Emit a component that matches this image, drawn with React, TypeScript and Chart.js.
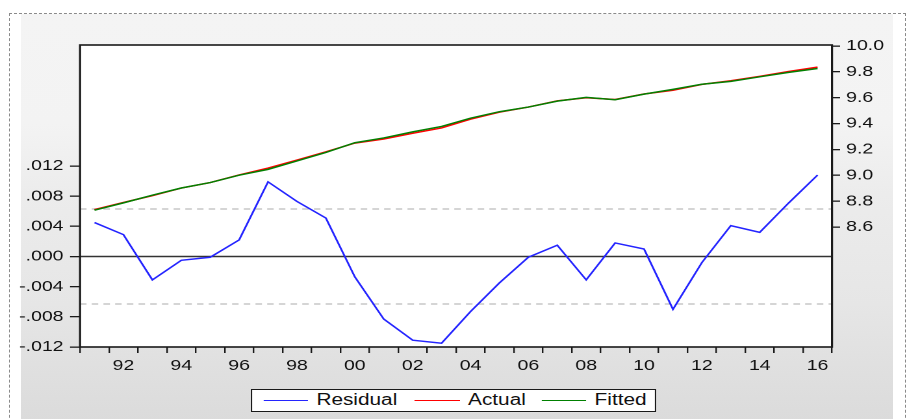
import React, { useEffect, useRef } from "react";
import { Chart, registerables } from "chart.js";

Chart.register(...registerables);

// ---- data ----
const years = [
  "91", "92", "93", "94", "95", "96", "97", "98", "99", "00",
  "01", "02", "03", "04", "05", "06", "07", "08", "09", "10",
  "11", "12", "13", "14", "15", "16",
];

const residual = [
  0.0045, 0.0029, -0.0031, -0.0005, -0.0001, 0.0022, 0.0099, 0.0073, 0.0051, -0.0027,
  -0.0083, -0.0111, -0.0115, -0.0073, -0.0035, -0.0001, 0.0015, -0.0031, 0.0018, 0.001,
  -0.007, -0.0008, 0.0041, 0.0032, 0.0071, 0.0108,
];

const actual = [
  8.7345, 8.7899, 8.8429, 8.9015, 8.9439, 9.0032, 9.0559, 9.1183, 9.1821, 9.2493,
  9.2807, 9.3249, 9.3665, 9.4347, 9.4885, 9.5279, 9.5755, 9.5999, 9.5868, 9.629,
  9.658, 9.7032, 9.7311, 9.7652, 9.8031, 9.8368,
];

const fitted = [
  8.73, 8.787, 8.846, 8.902, 8.944, 9.001, 9.046, 9.111, 9.177, 9.252,
  9.289, 9.336, 9.378, 9.442, 9.492, 9.528, 9.574, 9.603, 9.585, 9.628,
  9.665, 9.704, 9.727, 9.762, 9.796, 9.826,
];

const residualTicks = [0.012, 0.008, 0.004, 0, -0.004, -0.008, -0.012];
const levelTicks = [8.6, 8.8, 9.0, 9.2, 9.4, 9.6, 9.8, 10.0];
const residualStd = 0.0063;

// ---- layout helpers ----
const W = 708; // logical canvas width, stretched horizontally to 920
const H = 419;
const SX = 920 / W;
const FONT = '"Liberation Sans", Arial, sans-serif';

const fmtRes = (v: number) => {
  const s = Math.abs(v).toFixed(3).replace(/^0/, "");
  return (v < -1e-9 ? "-" : "") + s;
};

const refPlugin = {
  id: "refLines",
  beforeDraw(chart: any) {
    const { ctx, chartArea: a } = chart;
    ctx.save();
    ctx.fillStyle = "#ffffff";
    ctx.fillRect(a.left, a.top, a.right - a.left, a.bottom - a.top);
    ctx.restore();
  },
  beforeDatasetsDraw(chart: any) {
    const { ctx, chartArea: a } = chart;
    const y = chart.scales.yRes;
    ctx.save();
    ctx.strokeStyle = "#c8c8c8";
    ctx.lineWidth = 1.5;
    ctx.setLineDash([5, 4]);
    [residualStd, -residualStd].forEach((v) => {
      const py = y.getPixelForValue(v);
      ctx.beginPath();
      ctx.moveTo(a.left, py);
      ctx.lineTo(a.right, py);
      ctx.stroke();
    });
    ctx.setLineDash([]);
    ctx.strokeStyle = "#333333";
    ctx.lineWidth = 1.5;
    const pz = y.getPixelForValue(0);
    ctx.beginPath();
    ctx.moveTo(a.left, pz);
    ctx.lineTo(a.right, pz);
    ctx.stroke();
    ctx.restore();
  },
  afterDraw(chart: any) {
    const { ctx, chartArea: a } = chart;
    ctx.save();
    ctx.strokeStyle = "#1a1a1a";
    ctx.lineWidth = 1.6;
    ctx.strokeRect(a.left, a.top, a.right - a.left, a.bottom - a.top);
    ctx.restore();
  },
};

function ResidualChart() {
  const ref = useRef<HTMLCanvasElement | null>(null);

  useEffect(() => {
    if (!ref.current) return;
    const tickFont = { family: FONT, size: 15 };
    const chart = new Chart(ref.current, {
      type: "line",
      data: {
        labels: years,
        datasets: [
          {
            label: "Residual",
            data: residual,
            yAxisID: "yRes",
            borderColor: "#2424ff",
            borderWidth: 1.5,
            pointRadius: 0,
            tension: 0,
            order: 3,
          },
          {
            label: "Actual",
            data: actual,
            yAxisID: "yLvl",
            borderColor: "#ff0000",
            borderWidth: 1.5,
            pointRadius: 0,
            tension: 0,
            order: 2,
          },
          {
            label: "Fitted",
            data: fitted,
            yAxisID: "yLvl",
            borderColor: "#008000",
            borderWidth: 1.5,
            pointRadius: 0,
            tension: 0,
            order: 1,
          },
        ],
      },
      options: {
        responsive: false,
        animation: false,
        devicePixelRatio: 2,
        events: [],
        layout: { padding: { top: 45, left: 0, right: 0, bottom: 0 } },
        plugins: { legend: { display: false }, tooltip: { enabled: false } },
        scales: {
          x: {
            type: "category",
            offset: true,
            grid: {
              offset: true,
              drawOnChartArea: false,
              drawTicks: true,
              tickLength: 6,
              color: "#1a1a1a",
              lineWidth: 1.2,
            },
            border: { display: false },
            ticks: {
              autoSkip: false,
              maxRotation: 0,
              minRotation: 0,
              padding: 4,
              color: "#111111",
              font: tickFont,
              callback: (_v: any, i: number) => (i % 2 === 1 ? years[i] : ""),
            },
            afterFit: (s: any) => {
              s.height = 72;
            },
          },
          yRes: {
            type: "linear",
            position: "left",
            min: -0.012,
            max: 0.02805,
            afterBuildTicks: (s: any) => {
              s.ticks = residualTicks.map((v) => ({ value: v }));
            },
            grid: {
              drawOnChartArea: false,
              drawTicks: true,
              tickLength: 7.7,
              color: "#1a1a1a",
              lineWidth: 1.3,
            },
            border: { display: false },
            ticks: {
              padding: 5,
              color: "#111111",
              font: tickFont,
              callback: (v: any) => fmtRes(Number(v)),
            },
            afterFit: (s: any) => {
              s.width = 61.6;
            },
          },
          yLvl: {
            type: "linear",
            position: "right",
            min: 7.672,
            max: 10.008,
            afterBuildTicks: (s: any) => {
              s.ticks = levelTicks.map((v) => ({ value: v }));
            },
            grid: {
              drawOnChartArea: false,
              drawTicks: true,
              tickLength: 6.2,
              color: "#1a1a1a",
              lineWidth: 1.3,
            },
            border: { display: false },
            ticks: {
              padding: 4.6,
              color: "#111111",
              font: tickFont,
              callback: (v: any) => Number(v).toFixed(1),
            },
            afterFit: (s: any) => {
              s.width = 67.7;
            },
          },
        },
      } as any,
      plugins: [refPlugin],
    });
    return () => chart.destroy();
  }, []);

  return (
    <canvas
      ref={ref}
      width={W}
      height={H}
      style={{ position: "absolute", left: 0, top: 0, width: W, height: H }}
    />
  );
}

const legendItems = [
  { label: "Residual", color: "#2424ff", lineX: 8.5, textX: 49.3 },
  { label: "Actual", color: "#ff0000", lineX: 124.7, textX: 166 },
  { label: "Fitted", color: "#008000", lineX: 222.4, textX: 263.4 },
];

export default function App() {
  return (
    <div
      style={{
        position: "absolute",
        left: 0,
        top: 0,
        width: 920,
        height: 419,
        overflow: "hidden",
        background: "#ffffff",
      }}
    >
      <div
        style={{
          position: "absolute",
          left: 9,
          top: 13,
          width: 897,
          height: 450,
          border: "1px dashed #8a8a8a",
          boxSizing: "border-box",
        }}
      />
      <div
        style={{
          position: "absolute",
          left: 21,
          top: 14,
          width: 872,
          height: 420,
          background:
            "linear-gradient(to bottom, #f4f4f4 0px, #f3f3f3 110px, #ececec 180px, #e6e6e6 290px, #dfdfdf 360px, #dadada 420px)",
        }}
      />
      <div
        style={{
          position: "absolute",
          left: 0,
          top: 0,
          width: W,
          height: H,
          transform: `scaleX(${SX})`,
          transformOrigin: "0 0",
        }}
      >
        <ResidualChart />
        <div
          style={{
            position: "absolute",
            left: 193.2,
            top: 389,
            width: 311.7,
            height: 23,
            background: "#ffffff",
            border: "1.5px solid #1a1a1a",
            boxSizing: "border-box",
            fontFamily: FONT,
            fontSize: 16,
            color: "#111111",
          }}
        >
          {legendItems.map((it) => (
            <React.Fragment key={it.label}>
              <div
                style={{
                  position: "absolute",
                  left: it.lineX,
                  top: 9.5,
                  width: 34.8,
                  height: 1.5,
                  background: it.color,
                }}
              />
              <div
                style={{
                  position: "absolute",
                  left: it.textX,
                  top: 0,
                  height: 20,
                  lineHeight: "20px",
                  whiteSpace: "nowrap",
                }}
              >
                {it.label}
              </div>
            </React.Fragment>
          ))}
        </div>
      </div>
    </div>
  );
}
